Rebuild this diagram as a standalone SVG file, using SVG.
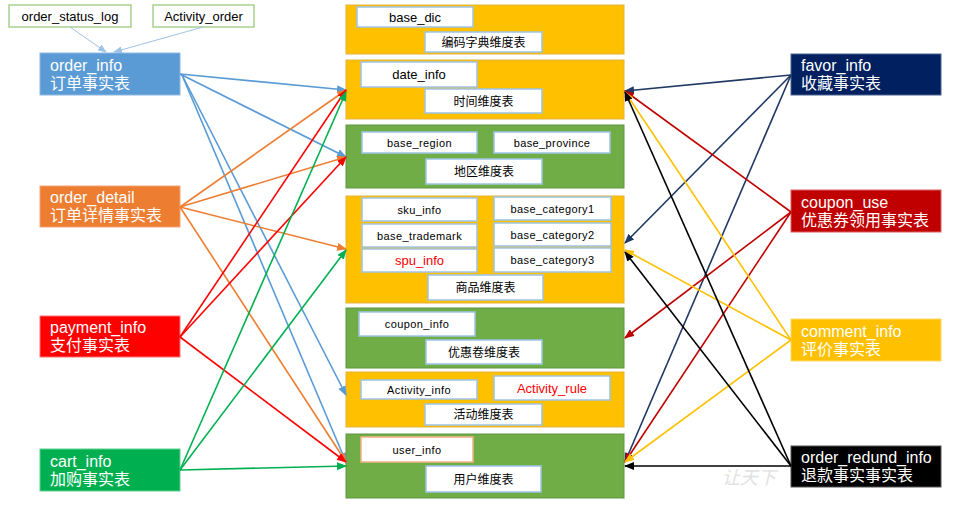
<svg xmlns="http://www.w3.org/2000/svg" width="971" height="511" viewBox="0 0 971 511">
<style>
text{font-family:"Liberation Sans","Noto Sans CJK SC",sans-serif}
.nt{fill:#fff;font-size:16px}
.yb{fill:#FFC000;stroke:#E3B23C;stroke-width:1}
.gb{fill:#70AD47;stroke:#5E9640;stroke-width:1}
.ib{fill:#fff;stroke:#9DC3E6;stroke-width:1.5}
.s{font-size:11px;letter-spacing:0.4px;text-anchor:middle;fill:#000}
.m{font-size:13px;text-anchor:middle;fill:#000}
.c{font-size:12px;text-anchor:middle;fill:#000}
.r{fill:#FF0000}
.tb{fill:#fff;stroke:#A9D18E;stroke-width:1.5}
.ln{fill:none;stroke-width:1.6}
</style>
<defs>
<marker id="aB" markerUnits="userSpaceOnUse" markerWidth="10" markerHeight="8" refX="9" refY="4" orient="auto"><path d="M0,0 L10,4 L0,8 z" fill="#5B9BD5"/></marker>
<marker id="aO" markerUnits="userSpaceOnUse" markerWidth="10" markerHeight="8" refX="9" refY="4" orient="auto"><path d="M0,0 L10,4 L0,8 z" fill="#ED7D31"/></marker>
<marker id="aR" markerUnits="userSpaceOnUse" markerWidth="10" markerHeight="8" refX="9" refY="4" orient="auto"><path d="M0,0 L10,4 L0,8 z" fill="#FF0000"/></marker>
<marker id="aG" markerUnits="userSpaceOnUse" markerWidth="10" markerHeight="8" refX="9" refY="4" orient="auto"><path d="M0,0 L10,4 L0,8 z" fill="#00B050"/></marker>
<marker id="aN" markerUnits="userSpaceOnUse" markerWidth="10" markerHeight="8" refX="9" refY="4" orient="auto"><path d="M0,0 L10,4 L0,8 z" fill="#203864"/></marker>
<marker id="aD" markerUnits="userSpaceOnUse" markerWidth="10" markerHeight="8" refX="9" refY="4" orient="auto"><path d="M0,0 L10,4 L0,8 z" fill="#C00000"/></marker>
<marker id="aY" markerUnits="userSpaceOnUse" markerWidth="10" markerHeight="8" refX="9" refY="4" orient="auto"><path d="M0,0 L10,4 L0,8 z" fill="#FFC000"/></marker>
<marker id="aK" markerUnits="userSpaceOnUse" markerWidth="10" markerHeight="8" refX="9" refY="4" orient="auto"><path d="M0,0 L10,4 L0,8 z" fill="#000"/></marker>
<marker id="aL" markerUnits="userSpaceOnUse" markerWidth="9" markerHeight="7" refX="8" refY="3.5" orient="auto"><path d="M0,0 L9,3.5 L0,7 z" fill="#9DC3E6"/></marker>
</defs>
<rect width="971" height="511" fill="#fff"/>

<text x="722" y="484" font-size="18" fill="#e2e2e2" font-style="italic">让天下</text>

<!-- top source tables -->
<g id="order_status_log"><rect class="tb" x="9" y="5" width="122" height="22"/><text x="70" y="21" font-size="13" text-anchor="middle">order_status_log</text></g>
<g id="Activity_order"><rect class="tb" x="153" y="5" width="101" height="22"/><text x="203.5" y="21" font-size="13" text-anchor="middle">Activity_order</text></g>

<!-- left fact nodes -->
<g id="order_info"><rect x="40" y="53" width="140" height="42" fill="#5B9BD5" stroke="#8DB8E2" stroke-width="1"/><text class="nt" x="50" y="71">order_info</text><text class="nt" x="50" y="89">订单事实表</text></g>
<g id="order_detail"><rect x="40" y="186" width="140" height="41" fill="#ED7D31" stroke="#F2A577" stroke-width="1"/><text class="nt" x="50" y="203">order_detail</text><text class="nt" x="50" y="221">订单详情事实表</text></g>
<g id="payment_info"><rect x="40" y="316" width="140" height="41" fill="#FF0000" stroke="#FF7070" stroke-width="1"/><text class="nt" x="50" y="333">payment_info</text><text class="nt" x="50" y="351">支付事实表</text></g>
<g id="cart_info"><rect x="40" y="449" width="140" height="42" fill="#00B050" stroke="#5FD08F" stroke-width="1"/><text class="nt" x="50" y="467">cart_info</text><text class="nt" x="50" y="485">加购事实表</text></g>

<!-- right fact nodes -->
<g id="favor_info"><rect x="791" y="54" width="150" height="41" fill="#002060" stroke="#4A6290" stroke-width="1"/><text class="nt" x="801" y="71">favor_info</text><text class="nt" x="801" y="89">收藏事实表</text></g>
<g id="coupon_use"><rect x="791" y="190" width="150" height="42" fill="#C00000" stroke="#D86060" stroke-width="1"/><text class="nt" x="801" y="208">coupon_use</text><text class="nt" x="801" y="226">优惠券领用事实表</text></g>
<g id="comment_info"><rect x="791" y="319" width="150" height="42" fill="#FFC000" stroke="#FFD966" stroke-width="1"/><text class="nt" x="801" y="337">comment_info</text><text class="nt" x="801" y="355">评价事实表</text></g>
<g id="order_redund_info"><rect x="791" y="446" width="150" height="41" fill="#000" stroke="#555" stroke-width="1"/><text class="nt" x="801" y="463">order_redund_info</text><text class="nt" x="801" y="481">退款事实事实表</text></g>

<!-- dimension blocks -->
<g id="dim_dic">
<rect class="yb" x="346" y="5" width="278" height="49"/>
<rect class="ib" x="357" y="7" width="116" height="20"/><text class="m" x="415" y="22">base_dic</text>
<rect class="ib" x="425" y="32" width="117" height="20"/><text class="c" x="483.5" y="46.5">编码字典维度表</text>
</g>
<g id="dim_date">
<rect class="yb" x="346" y="60" width="278" height="59"/>
<rect class="ib" x="361" y="62" width="116" height="25"/><text class="m" x="419" y="79">date_info</text>
<rect class="ib" x="425" y="89" width="117" height="24"/><text class="c" x="483.5" y="105.5">时间维度表</text>
</g>
<g id="dim_region">
<rect class="gb" x="346" y="125" width="278" height="63"/>
<rect class="ib" x="362" y="132" width="115" height="21"/><text class="s" x="419.5" y="146.5">base_region</text>
<rect class="ib" x="494" y="132" width="116" height="21"/><text class="s" x="552" y="146.5">base_province</text>
<rect class="ib" x="426" y="159" width="116" height="25"/><text class="c" x="484" y="176">地区维度表</text>
</g>
<g id="dim_product">
<rect class="yb" x="346" y="196" width="278" height="107"/>
<rect class="ib" x="362" y="198" width="115" height="23"/><text class="s" x="419.5" y="213.5">sku_info</text>
<rect class="ib" x="362" y="224" width="115" height="23"/><text class="s" x="419.5" y="239.5">base_trademark</text>
<rect class="ib" x="362" y="249" width="115" height="23"/><text class="m r" x="419.5" y="265">spu_info</text>
<rect class="ib" x="494" y="197" width="117" height="23"/><text class="s" x="552.5" y="212.5">base_category1</text>
<rect class="ib" x="494" y="223" width="117" height="23"/><text class="s" x="552.5" y="238.5">base_category2</text>
<rect class="ib" x="494" y="248" width="117" height="24"/><text class="s" x="552.5" y="264">base_category3</text>
<rect class="ib" x="428" y="275" width="115" height="25"/><text class="c" x="485.5" y="292">商品维度表</text>
</g>
<g id="dim_coupon">
<rect class="gb" x="346" y="308" width="278" height="60"/>
<rect class="ib" x="359" y="312" width="116" height="24"/><text class="s" x="417" y="328">coupon_info</text>
<rect class="ib" x="426" y="340" width="116" height="24"/><text class="c" x="484" y="356.5">优惠卷维度表</text>
</g>
<g id="dim_activity">
<rect class="yb" x="346" y="372" width="278" height="55"/>
<rect class="ib" x="361" y="380" width="116" height="19"/><text class="s" x="419" y="393.5">Activity_info</text>
<rect class="ib" x="494" y="376" width="116" height="24"/><text class="m r" x="552" y="392.5">Activity_rule</text>
<rect class="ib" x="425" y="404" width="117" height="21"/><text class="c" x="483.5" y="419">活动维度表</text>
</g>
<g id="dim_user">
<rect class="gb" x="346" y="434" width="278" height="64"/>
<rect x="361" y="437" width="112" height="25" fill="#fff" stroke="#F4B183" stroke-width="1.5"/><text class="s" x="417" y="453.5">user_info</text>
<rect class="ib" x="426" y="466" width="115" height="26"/><text class="c" x="483.5" y="483.5">用户维度表</text>
</g>

<!-- connectors -->
<g id="connectors" class="ln">
<line x1="70" y1="27" x2="106" y2="52" stroke="#9DC3E6" stroke-width="1" marker-end="url(#aL)"/>
<line x1="203" y1="27" x2="114" y2="52" stroke="#9DC3E6" stroke-width="1" marker-end="url(#aL)"/>

<g stroke="#5B9BD5" stroke-width="1.6" fill="none">
<line x1="180" y1="74" x2="346" y2="90" marker-end="url(#aB)"/>
<line x1="180" y1="74" x2="346" y2="157" marker-end="url(#aB)"/>
<line x1="182" y1="75" x2="346" y2="395" marker-end="url(#aB)"/>
<line x1="182" y1="75" x2="346" y2="462" marker-end="url(#aB)"/>
</g>
<g stroke="#ED7D31" stroke-width="1.6" fill="none">
<line x1="180" y1="207" x2="346" y2="90" marker-end="url(#aO)"/>
<line x1="180" y1="207" x2="346" y2="157" marker-end="url(#aO)"/>
<line x1="180" y1="207" x2="346" y2="249" marker-end="url(#aO)"/>
<line x1="180" y1="207" x2="346" y2="462" marker-end="url(#aO)"/>
</g>
<g stroke="#FF0000" stroke-width="1.6" fill="none">
<line x1="180" y1="337" x2="346" y2="90" marker-end="url(#aR)"/>
<line x1="180" y1="337" x2="346" y2="157" marker-end="url(#aR)"/>
<line x1="180" y1="337" x2="346" y2="462" marker-end="url(#aR)"/>
</g>
<g stroke="#00B050" stroke-width="1.6" fill="none">
<line x1="180" y1="470" x2="346" y2="92" marker-end="url(#aG)"/>
<line x1="180" y1="470" x2="346" y2="250" marker-end="url(#aG)"/>
<line x1="180" y1="470" x2="346" y2="466" marker-end="url(#aG)"/>
</g>

<g stroke="#203864" stroke-width="1.6" fill="none">
<line x1="791" y1="75" x2="625" y2="91" marker-end="url(#aN)"/>
<line x1="791" y1="75" x2="625" y2="243" marker-end="url(#aN)"/>
<line x1="791" y1="75" x2="625" y2="462" marker-end="url(#aN)"/>
</g>
<g stroke="#C00000" stroke-width="1.6" fill="none">
<line x1="791" y1="212" x2="625" y2="91" marker-end="url(#aD)"/>
<line x1="791" y1="212" x2="625" y2="338" marker-end="url(#aD)"/>
<line x1="791" y1="212" x2="625" y2="462" marker-end="url(#aD)"/>
</g>
<g stroke="#FFC000" stroke-width="1.6" fill="none">
<line x1="791" y1="340" x2="625" y2="92" marker-end="url(#aY)"/>
<line x1="791" y1="340" x2="625" y2="250" marker-end="url(#aY)"/>
<line x1="791" y1="340" x2="625" y2="462" marker-end="url(#aY)"/>
</g>
<g stroke="#000" stroke-width="1.6" fill="none">
<line x1="791" y1="466" x2="625" y2="92" marker-end="url(#aK)"/>
<line x1="791" y1="466" x2="625" y2="252" marker-end="url(#aK)"/>
<line x1="791" y1="466" x2="625" y2="466" marker-end="url(#aK)"/>
</g>
</g>
</svg>
